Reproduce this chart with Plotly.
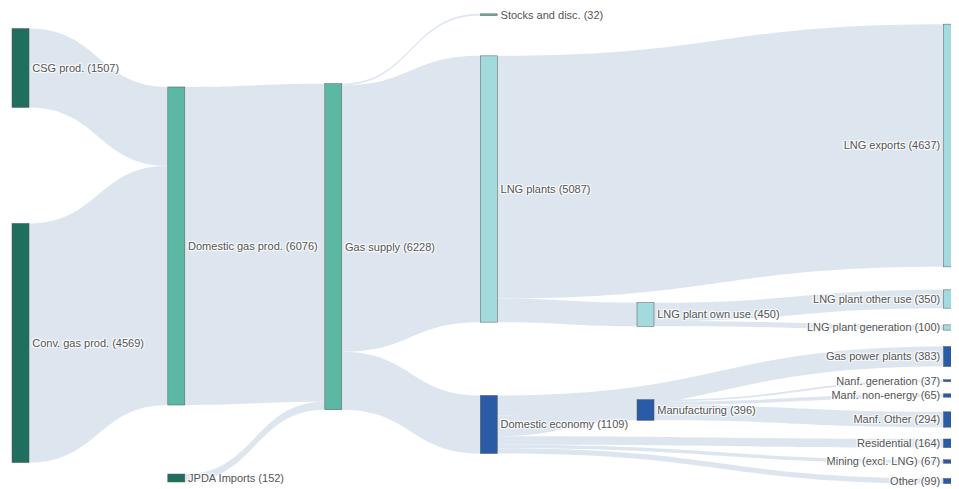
import plotly.graph_objects as go

# ---- Data ----
node_labels = [
    "CSG prod. (1507)",          # 0
    "Conv. gas prod. (4569)",    # 1
    "JPDA Imports (152)",        # 2
    "Domestic gas prod. (6076)", # 3
    "Gas supply (6228)",         # 4
    "Stocks and disc. (32)",     # 5
    "LNG plants (5087)",         # 6
    "Domestic economy (1109)",   # 7
    "LNG plant own use (450)",   # 8
    "Manufacturing (396)",       # 9
    "LNG exports (4637)",        # 10
    "LNG plant other use (350)", # 11
    "LNG plant generation (100)",# 12
    "Gas power plants (383)",    # 13
    "Nanf. generation (37)",     # 14
    "Manf. non-energy (65)",     # 15
    "Manf. Other (294)",         # 16
    "Residential (164)",         # 17
    "Mining (excl. LNG) (67)",   # 18
    "Other (99)",                # 19
]

link_source = [0, 1, 3, 2, 4, 4, 4, 6, 6, 8, 8, 7, 7, 7, 7, 7, 9, 9, 9]
link_target = [3, 3, 4, 4, 5, 6, 7, 10, 8, 11, 12, 13, 9, 17, 18, 19, 14, 15, 16]
link_value = [1507, 4569, 6076, 152, 32, 5087, 1109, 4637, 450, 350, 100,
              383, 396, 164, 67, 99, 37, 65, 294]

# node groups (for colour)
node_group = ["src", "src", "src", "mid", "mid", "mid", "lng", "dom", "lng", "dom",
              "lng", "lng", "lng", "dom", "dom", "dom", "dom", "dom", "dom", "dom"]

# ---- Styling / layout ----
OFF = 8  # default page body margin
W, H = 959 - OFF, 489 - OFF
group_colors = {"src": "#1f6e5e", "mid": "#5cb8a2", "lng": "#a3dadd", "dom": "#2a5ba6"}
node_colors = [group_colors[g] for g in node_group]

col_center_px = [20.5, 176.3, 333.3, 488.8, 645.5, 952.0]
node_col = [0, 0, 1, 1, 2, 3, 3, 3, 4, 4, 5, 5, 5, 5, 5, 5, 5, 5, 5, 5]
node_y_px = [68, 343, 478, 246, 246.7, 14.7, 189, 424.5, 314.5, 410,
             145.5, 299, 327.5, 356.5, 380.7, 395.5, 419.5, 443.3, 461.5, 481]

node_x = [(col_center_px[c] - OFF) / W for c in node_col]
node_y = [(p - OFF) / H for p in node_y_px]

fig = go.Figure(go.Sankey(
    arrangement="fixed",
    node=dict(
        label=node_labels,
        color=node_colors,
        x=node_x,
        y=node_y,
        pad=15.5,
        thickness=17,
        line=dict(color="#555555", width=0.5),
    ),
    link=dict(
        source=link_source,
        target=link_target,
        value=link_value,
        color="#dde6ef",
    ),
    textfont=dict(family="Liberation Sans, Arial, sans-serif", size=11, color="#555555"),
))

fig.update_layout(
    width=W, height=H,
    margin=dict(l=0, r=0, t=0, b=0),
    paper_bgcolor="white",
    plot_bgcolor="white",
)

fig.write_html(
    "out.html",
    post_script="document.documentElement.style.overflow='hidden';",
)
